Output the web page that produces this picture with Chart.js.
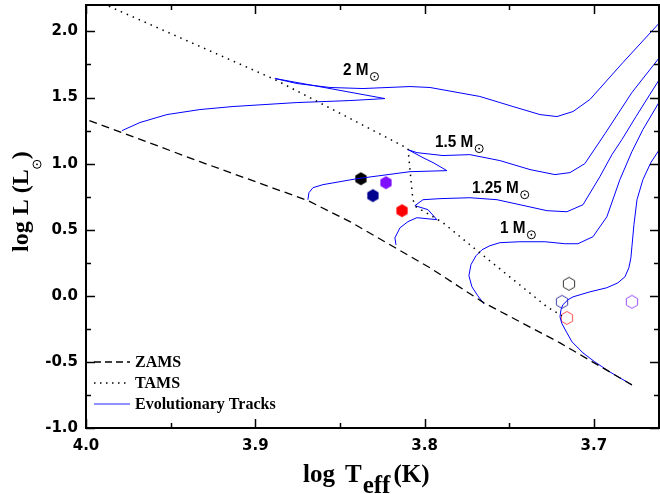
<!DOCTYPE html>
<html>
<head>
<meta charset="utf-8">
<script src="https://cdn.jsdelivr.net/npm/chart.js@4.4.1/dist/chart.umd.min.js"></script>
<style>
  html, body { margin: 0; padding: 0; background: #fff; }
</style>
</head>
<body>
<canvas id="hr" width="660" height="494"></canvas>
<script>
// HR diagram: ZAMS / TAMS lines, evolutionary tracks and the stars

const zamsLogT = [3.998, 3.9327, 3.8689, 3.8441, 3.8204, 3.7968, 3.7649, 3.7200, 3.6775];
const zamsLogL = [1.326, 1.015, 0.720, 0.561, 0.386, 0.212, -0.053, -0.356, -0.674];

const tamsLogT = [3.990, 3.8884, 3.8098, 3.8069, 3.8051, 3.7891, 3.7732, 3.7277, 3.7188];
const tamsLogL = [2.21, 1.636, 1.114, 0.727, 0.674, 0.553, 0.386, -0.083, -0.152];

const track2LogT = [3.9787, 3.9681, 3.9522, 3.9327, 3.9132, 3.8754, 3.8441, 3.8234, 3.8884, 3.8754, 3.8559, 3.8364, 3.8086, 3.7968, 3.7673, 3.7478, 3.7318, 3.7218, 3.7123, 3.7023, 3.6828, 3.6621, 3.655];
const track2LogL = [1.250, 1.311, 1.371, 1.409, 1.432, 1.462, 1.477, 1.492, 1.644, 1.606, 1.576, 1.568, 1.583, 1.576, 1.508, 1.432, 1.371, 1.356, 1.394, 1.485, 1.765, 2.053, 2.152];

const track15LogT = [3.8689, 3.8683, 3.8659, 3.8600, 3.8399, 3.8086, 3.7868, 3.7950, 3.8009, 3.8098, 3.8045, 3.7891, 3.7732, 3.7555, 3.7377, 3.7230, 3.7141, 3.7053, 3.6934, 3.6775, 3.6598];
const track15LogL = [0.727, 0.780, 0.818, 0.841, 0.886, 0.939, 0.947, 1.008, 1.045, 1.106, 1.083, 1.061, 1.068, 1.023, 0.955, 0.917, 0.932, 1.000, 1.227, 1.538, 1.826];

const track125LogT = [3.8169, 3.8175, 3.8145, 3.8098, 3.8045, 3.7927, 3.7980, 3.8057, 3.8009, 3.7909, 3.7732, 3.7572, 3.7436, 3.7277, 3.7159, 3.7064, 3.6964, 3.6893, 3.6834, 3.6751, 3.6669, 3.6598];
const track125LogL = [0.386, 0.439, 0.515, 0.561, 0.591, 0.576, 0.652, 0.682, 0.727, 0.735, 0.742, 0.727, 0.689, 0.644, 0.636, 0.689, 0.902, 1.068, 1.182, 1.356, 1.523, 1.667];

const track1LogT = [3.7649, 3.7685, 3.7720, 3.7738, 3.7726, 3.7696, 3.7661, 3.7614, 3.7555, 3.7437, 3.7289, 3.7171, 3.7094, 3.7005, 3.6923, 3.6846, 3.6775, 3.6710, 3.6598];
const track1LogL = [-0.061, 0.000, 0.068, 0.152, 0.235, 0.303, 0.348, 0.379, 0.402, 0.409, 0.409, 0.394, 0.394, 0.447, 0.598, 0.879, 1.091, 1.258, 1.500];

const trackLowLogT = [3.6775, 3.6905, 3.6994, 3.7064, 3.7129, 3.7159, 3.7188, 3.7200, 3.7194, 3.7183, 3.7153, 3.7123, 3.7023, 3.6923, 3.6858, 3.6816, 3.6793, 3.6781, 3.6775, 3.6763, 3.6745, 3.6710, 3.6663, 3.6598];
const trackLowLogL = [-0.674, -0.576, -0.500, -0.432, -0.348, -0.280, -0.212, -0.159, -0.106, -0.068, -0.030, -0.008, 0.030, 0.061, 0.098, 0.144, 0.212, 0.288, 0.371, 0.538, 0.727, 0.879, 1.008, 1.136];

const starLogT = [3.8376, 3.8228, 3.8305, 3.8133, 3.7147, 3.7188, 3.7159, 3.6775];
const starLogL = [0.886, 0.856, 0.758, 0.644, 0.091, -0.045, -0.167, -0.045];
const starColor = ['#000000', '#7f10ff', '#00008e', '#ff0000', '#333333', '#3c3ca8', '#ff4d4d', '#9b4dff'];
const starFilled = [true, true, true, true, false, false, false, false];

const massLabels = ['2 M', '1.5 M', '1.25 M', '1 M'];
const massLabelLogT = [3.8482, 3.7939, 3.772, 3.7555];
const massLabelLogL = [1.674, 1.129, 0.780, 0.477];

const xTickValues = [4.0, 3.9, 3.8, 3.7];
const yTickValues = [-1.0, -0.5, 0.0, 0.5, 1.0, 1.5, 2.0];

const pts = (xs, ys) => xs.map((v, i) => ({ x: v, y: ys[i] }));

function hexagon(color, filled) {
  const c = document.createElement('canvas');
  c.width = 16; c.height = 16;
  const g = c.getContext('2d');
  g.beginPath();
  for (let k = 0; k < 6; k++) {
    const a = -Math.PI / 2 + k * Math.PI / 3;
    const px = 8 + 6.5 * Math.cos(a), py = 8 + 6.5 * Math.sin(a);
    k ? g.lineTo(px, py) : g.moveTo(px, py);
  }
  g.closePath();
  if (filled) { g.fillStyle = color; g.fill(); }
  else { g.strokeStyle = color; g.lineWidth = 1; g.stroke(); }
  return c;
}

function sun(ctx, cx, cy, r) {
  ctx.beginPath(); ctx.arc(cx, cy, r, 0, 2 * Math.PI);
  ctx.lineWidth = 1; ctx.stroke();
  ctx.beginPath(); ctx.arc(cx, cy, 0.9, 0, 2 * Math.PI); ctx.fill();
}

const trackStyle = { showLine: true, borderColor: '#0000ff', borderWidth: 1, pointRadius: 0, tension: 0, fill: false };

const noPad = (s) => { s.paddingTop = 0; s.paddingBottom = 0; s.paddingLeft = 0; s.paddingRight = 0; };

const framePlugin = {
  id: 'frame',
  afterDatasetsDraw(chart) {
    const { ctx, chartArea: a, scales: { x, y } } = chart;
    ctx.save();
    ctx.strokeStyle = '#000';
    ctx.lineWidth = 1.5;
    ctx.beginPath();
    for (let i = 0; i <= 7; i++) {
      const v = 4.0 - i * 0.05;
      if (v < x.min) continue;
      const px = Math.round(x.getPixelForValue(v)) + 0.5;
      const len = i % 2 === 0 ? 9 : 5;
      ctx.moveTo(px, a.bottom); ctx.lineTo(px, a.bottom - len);
      ctx.moveTo(px, a.top); ctx.lineTo(px, a.top + len);
    }
    for (let i = 0; i <= 12; i++) {
      const v = -1.0 + i * 0.25;
      const py = Math.round(y.getPixelForValue(v)) + 0.5;
      const len = i % 2 === 0 ? 9 : 5;
      ctx.moveTo(a.left, py); ctx.lineTo(a.left + len, py);
      ctx.moveTo(a.right, py); ctx.lineTo(a.right - len, py);
    }
    ctx.stroke();
    ctx.lineWidth = 2;
    ctx.strokeRect(a.left, a.top, a.right - a.left, a.bottom - a.top);
    ctx.restore();
  }
};

const textPlugin = {
  id: 'texts',
  afterDraw(chart) {
    const { ctx, scales: { x, y } } = chart;
    ctx.save();
    ctx.fillStyle = '#000';
    ctx.strokeStyle = '#000';
    ctx.textBaseline = 'alphabetic';

    // mass labels
    ctx.font = 'bold 17px "Liberation Sans", Arial, sans-serif';
    massLabels.forEach((t, i) => {
      const px = x.getPixelForValue(massLabelLogT[i]);
      const py = y.getPixelForValue(massLabelLogL[i]);
      ctx.save(); ctx.translate(px, py); ctx.scale(0.9, 1); ctx.fillText(t, 0, 0); ctx.restore();
      const w = ctx.measureText(t).width * 0.9;
      sun(ctx, px + w + 6, py + 2, 4);
    });

    // x title
    ctx.font = 'bold 25px "Liberation Serif", "Times New Roman", serif';
    ctx.fillText('log', 303, 482);
    ctx.fillText('T', 345, 482);
    const tx = 345 + ctx.measureText('T').width + 1;
    ctx.fillText('eff', tx, 493);
    ctx.fillText('(K)', tx + ctx.measureText('eff').width + 3, 482);

    // y title
    ctx.save();
    ctx.translate(28, 252);
    ctx.rotate(-Math.PI / 2);
    ctx.font = 'bold 24px "Liberation Serif", "Times New Roman", serif';
    ctx.fillText('log L (L', 0, 0);
    const w = ctx.measureText('log L (L').width;
    sun(ctx, w + 5, 9, 4);
    ctx.fillText(')', w + 10, 0);
    ctx.restore();

    // legend
    const items = [
      { label: 'ZAMS', color: '#000', dash: [7, 4], width: 1.3, y: 362 },
      { label: 'TAMS', color: '#000', dash: [1.5, 4.5], width: 1.5, y: 383 },
      { label: 'Evolutionary Tracks', color: '#6d6dff', dash: [], width: 1.3, y: 404 }
    ];
    ctx.font = 'bold 16px "Liberation Serif", "Times New Roman", serif';
    items.forEach((it) => {
      ctx.beginPath();
      ctx.setLineDash(it.dash);
      ctx.strokeStyle = it.color;
      ctx.lineWidth = it.width;
      ctx.moveTo(94, it.y); ctx.lineTo(130, it.y);
      ctx.stroke();
      ctx.setLineDash([]);
      ctx.fillText(it.label, 135, it.y + 5);
    });
    ctx.restore();
  }
};

new Chart(document.getElementById('hr'), {
  type: 'scatter',
  data: {
    datasets: [
      { label: 'ZAMS', data: pts(zamsLogT, zamsLogL), showLine: true, borderColor: '#000', borderWidth: 1.3, borderDash: [8, 5], pointRadius: 0 },
      { label: 'TAMS', data: pts(tamsLogT, tamsLogL), showLine: true, borderColor: '#000', borderWidth: 1.5, borderDash: [1.5, 5], pointRadius: 0 },
      { label: '2 M', data: pts(track2LogT, track2LogL), ...trackStyle },
      { label: '1.5 M', data: pts(track15LogT, track15LogL), ...trackStyle },
      { label: '1.25 M', data: pts(track125LogT, track125LogL), ...trackStyle },
      { label: '1 M', data: pts(track1LogT, track1LogL), ...trackStyle },
      { label: 'low', data: pts(trackLowLogT, trackLowLogL), ...trackStyle },
      {
        label: 'stars',
        data: pts(starLogT, starLogL),
        pointStyle: starColor.map((c, i) => hexagon(c, starFilled[i])),
        pointRadius: 7,
        showLine: false
      }
    ]
  },
  options: {
    responsive: false,
    animation: false,
    devicePixelRatio: 1,
    layout: { autoPadding: false, padding: { top: 5, right: 1, left: 0, bottom: 0 } },
    plugins: { legend: { display: false }, tooltip: { enabled: false } },
    scales: {
      x: {
        type: 'linear', reverse: true, min: 3.6615, max: 4.0,
        grid: { display: false, drawTicks: false }, border: { display: false },
        afterBuildTicks: (s) => { s.ticks = xTickValues.map((v) => ({ value: v })); },
        afterFit: (s) => { s.height = 66; noPad(s); },
        ticks: { padding: 9, maxRotation: 0, color: '#000', font: { family: 'DejaVu Sans', weight: 'bold', size: 15 }, callback: (v) => Number(v).toFixed(1) }
      },
      y: {
        type: 'linear', min: -1.0, max: 2.2,
        grid: { display: false, drawTicks: false }, border: { display: false },
        afterBuildTicks: (s) => { s.ticks = yTickValues.map((v) => ({ value: v })); },
        afterFit: (s) => { s.width = 86; noPad(s); },
        ticks: { padding: 8, color: '#000', font: { family: 'DejaVu Sans', weight: 'bold', size: 15 }, callback: (v) => Number(v).toFixed(1) }
      }
    }
  },
  plugins: [framePlugin, textPlugin]
});
</script>
</body>
</html>
